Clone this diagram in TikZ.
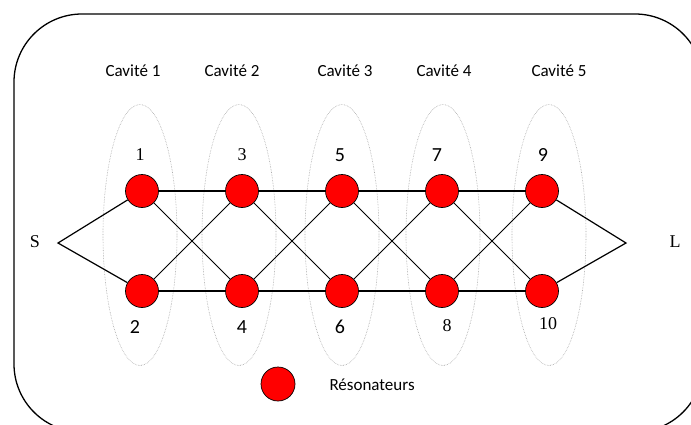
\documentclass[tikz,border=0pt]{standalone}
\usepackage{fontspec}
\setmainfont{Liberation Serif}
\setsansfont{Carlito}
\usetikzlibrary{positioning,shapes.geometric}

\tikzset{
  res/.style={circle,draw=black,fill=red,minimum size=33pt,inner sep=0pt,line width=0.7pt},
  cavite/.style={ellipse,draw=gray!70,densely dotted,line width=0.6pt,minimum width=74pt,minimum height=261pt,inner sep=0pt},
  cav/.style={font=\sffamily\fontsize{17}{20}\selectfont},
  numrm/.style={font=\rmfamily\fontsize{18}{20}\selectfont},
  numsf/.style={font=\sffamily\fontsize{20}{20}\selectfont},
  fil/.style={line width=1.2pt},
  croix/.style={line width=0.8pt}
}

\begin{document}
\begin{tikzpicture}[x=1pt,y=-1pt]
  \useasboundingbox (0,0) rectangle (691,424);
  \clip (0,0) rectangle (691,424);
  % cadre arrondi, coupe a droite et en bas
  \draw[line width=1.3pt,rounded corners=68pt] (14,14) rectangle (703,432);

  % cavites
  \node[cavite] (c1) at (140,235) {};
  \node[cavite] (c2) at (239,235) {};
  \node[cavite] (c3) at (342,235) {};
  \node[cavite] (c4) at (443,235) {};
  \node[cavite] (c5) at (549,235) {};
  \node[cav] (t1) at (133,71) {Cavité 1};
  \node[cav] (t2) at (232,71) {Cavité 2};
  \node[cav] (t3) at (345,71) {Cavité 3};
  \node[cav] (t4) at (444,71) {Cavité 4};
  \node[cav] (t5) at (559,71) {Cavité 5};

  % resonateurs
  \begin{scope}[on grid,node distance=100pt]
    \node[res] (r1) at (142,191) {};
    \node[res,below=of r1] (r2) {};
    \node[res,right=of r1] (r3) {};
    \node[res,right=of r2] (r4) {};
    \node[res,right=of r3] (r5) {};
    \node[res,right=of r4] (r6) {};
    \node[res,right=of r5] (r7) {};
    \node[res,right=of r6] (r8) {};
    \node[res,right=of r7] (r9) {};
    \node[res,right=of r8] (r10) {};
  \end{scope}
  \coordinate (S) at (58,243);
  \coordinate (L) at (626,243);

  % couplages
  \draw[fil] (r1) -- (r3) -- (r5) -- (r7) -- (r9);
  \draw[fil] (r2) -- (r4) -- (r6) -- (r8) -- (r10);
  \draw[fil] (r1) -- (S) -- (r2);
  \draw[fil] (r9) -- (L) -- (r10);
  \draw[croix] (r1) -- (r4);
  \draw[croix] (r2) -- (r3);
  \draw[croix] (r3) -- (r6);
  \draw[croix] (r4) -- (r5);
  \draw[croix] (r5) -- (r8);
  \draw[croix] (r6) -- (r7);
  \draw[croix] (r7) -- (r10);
  \draw[croix] (r8) -- (r9);

  % numeros
  \node[numrm] (n1) at (140,155) {1};
  \node[numrm] (n3) at (242,155) {3};
  \node[numsf] (n5) at (340,155) {5};
  \node[numsf] (n7) at (437,155) {7};
  \node[numsf] (n9) at (543,155) {9};
  \node[numsf] (n2) at (135,327) {2};
  \node[numsf] (n4) at (242,327) {4};
  \node[numsf] (n6) at (340,327) {6};
  \node[numrm] (n8) at (447,326) {8};
  \node[numrm] (n10) at (548,324) {10};
  \node[numrm] (ts) at (35,242) {S};
  \node[numrm] (tl) at (675,242) {L};

  % legende
  \node[res,minimum size=34pt] (leg) at (278,384) {};
  \node[cav,anchor=west] (tleg) at (326,385) {Résonateurs};
\end{tikzpicture}
\end{document}
